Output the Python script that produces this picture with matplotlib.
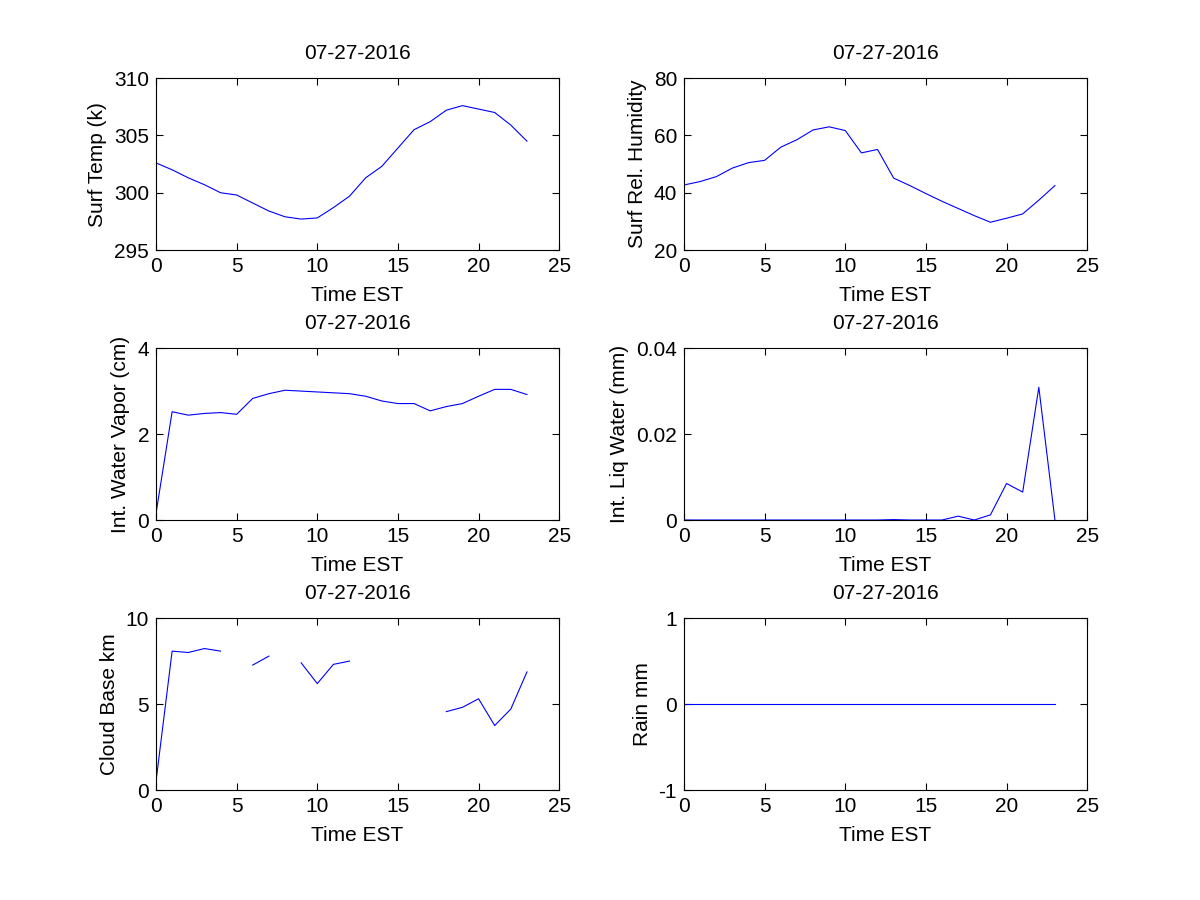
import numpy as np
import matplotlib
matplotlib.use("Agg")
import matplotlib.pyplot as plt

#Hourly data for 07-27-2016
hours=list(range(24))
surf_temp=[302.6,302.0,301.3,300.7,300.0,299.8,299.1,298.4,297.9,297.7,297.8,298.7,
           299.7,301.3,302.3,303.9,305.5,306.2,307.2,307.6,307.3,307.0,305.9,304.5]
surf_rh=[42.7,43.9,45.6,48.6,50.5,51.3,55.9,58.5,61.9,63.0,61.7,53.9,
         55.1,45.1,42.5,39.7,37.0,34.5,32.0,29.7,31.1,32.6,37.4,42.5]
water_vapor=[0.15,2.52,2.44,2.48,2.50,2.46,2.83,2.94,3.02,3.00,2.98,2.96,
             2.94,2.88,2.77,2.71,2.71,2.54,2.64,2.71,2.88,3.04,3.04,2.92]
liq_water=[0,0,0,0,0,0,0,0,0,0,0,0,
           0,0.0001,0,0,0,0.0009,0,0.0012,0.0085,0.0065,0.0309,0]
cloud_base=[0.5,8.08,8.0,8.23,8.08,np.nan,7.27,7.79,np.nan,7.4,6.19,7.31,
            7.5,np.nan,np.nan,np.nan,np.nan,np.nan,4.56,4.81,5.31,3.75,4.71,6.87]
rain=[0]*24

plt.rcParams['font.family']=['Liberation Sans','DejaVu Sans']
plt.rcParams['font.size']=15
plt.rcParams['axes.unicode_minus']=False

panels=[(surf_temp,"Surf Temp (k)",(295,310),[295,300,305,310],None),
        (surf_rh,"Surf Rel. Humidity",(20,80),[20,40,60,80],None),
        (water_vapor,"Int. Water Vapor (cm)",(0,4),[0,2,4],None),
        (liq_water,"Int. Liq Water (mm)",(0,0.04),[0,0.02,0.04],["0","0.02","0.04"]),
        (cloud_base,"Cloud Base km",(0,10),[0,5,10],None),
        (rain,"Rain mm",(-1,1),[-1,0,1],None)]

fig=plt.figure(figsize=(12,9),dpi=100)
lefts=[0.13,0.57]
bottoms=[0.7222,0.4222,0.1222]
for i,(vals,ylab,ylim,yt,ytl) in enumerate(panels):
  ax=fig.add_axes([lefts[i%2],bottoms[i//2],0.336,0.191])
  ax.plot(hours,vals,color="#0000ff",linewidth=0.8)
  ax.set_xlim(0,25)
  ax.set_ylim(*ylim)
  ax.set_xticks([0,5,10,15,20,25])
  ax.set_yticks(yt)
  if ytl is not None:
    ax.set_yticklabels(ytl)
  ax.tick_params(direction="in",top=True,right=True,length=5,width=0.8,pad=5)
  for s in ax.spines.values():
    s.set_linewidth(0.8)
  ax.set_xlabel("Time EST",labelpad=7)
  ax.set_ylabel(ylab,labelpad=5)
  ax.set_title("07-27-2016",fontsize=15,pad=14)

fig.savefig("out.png",dpi=100)
